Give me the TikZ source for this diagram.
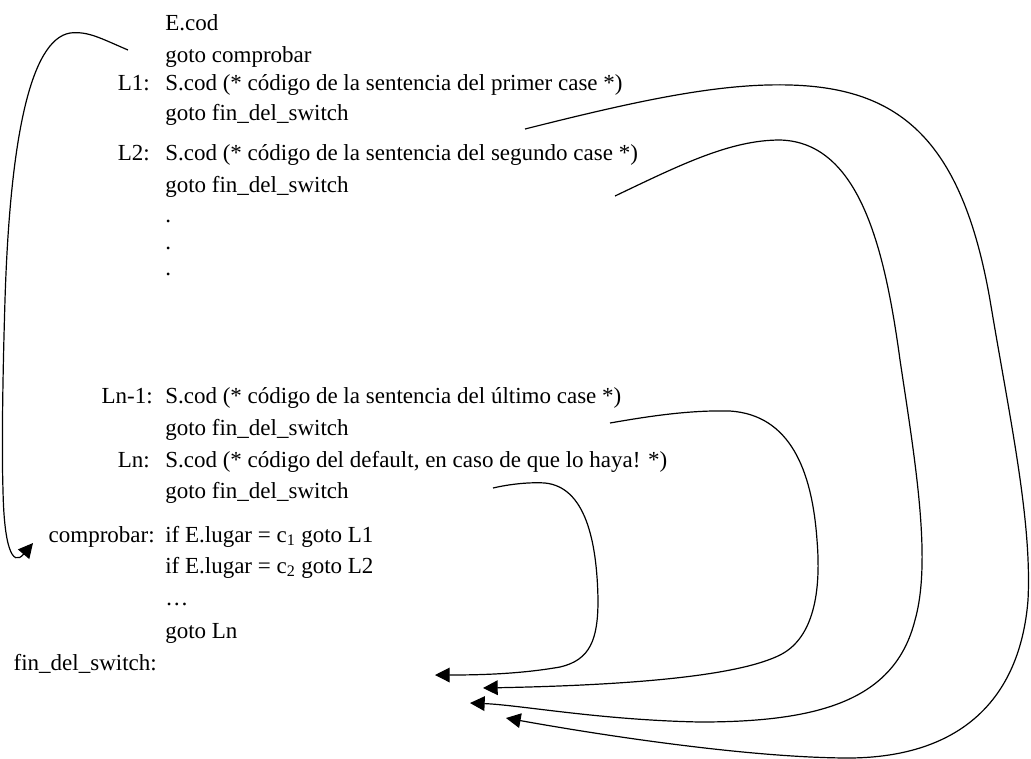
\documentclass[tikz,border=0pt]{standalone}
\usepackage{fontspec}
\setmainfont{Liberation Serif}
\usetikzlibrary{arrows.meta}
\tikzset{
  codeline/.style={anchor=base west,inner sep=0pt,font=\fontsize{17.25pt}{20pt}\selectfont},
  labeltext/.style={anchor=base east,inner sep=0pt,font=\fontsize{17.25pt}{20pt}\selectfont},
  jump/.style={-{Triangle[length=11pt,width=11pt]},line width=0.9pt}
}
\begin{document}
\begin{tikzpicture}[x=0.75pt,y=-0.75pt]
  \useasboundingbox (0,0) rectangle (1031,758);
  % code lines
  \node[codeline] (ecod) at (165,30) {E.cod};
  \node[codeline] (gocomp) at (165,62) {goto comprobar};
  \node[labeltext] (lone) at (150,90) {L1:};
  \node[codeline] (sone) at (165,90) {S.cod (* código de la sentencia del primer case *)};
  \node[codeline] (gone) at (165,120) {goto fin\_del\_switch};
  \node[labeltext] (ltwo) at (150,160) {L2:};
  \node[codeline] (stwo) at (165,160) {S.cod (* código de la sentencia del segundo case *)};
  \node[codeline] (gtwo) at (165,192) {goto fin\_del\_switch};
  \node[codeline] (dota) at (165,222) {.};
  \node[codeline] (dotb) at (165,249) {.};
  \node[codeline] (dotc) at (165,275) {.};
  \node[labeltext] (llast) at (153,403) {Ln-1:};
  \node[codeline] (slast) at (165,403) {S.cod (* código de la sentencia del último case *)};
  \node[codeline] (glast) at (165,435) {goto fin\_del\_switch};
  \node[labeltext] (ldef) at (150,467) {Ln:};
  \node[codeline] (sdef) at (165,467) {S.cod (* código del default, en caso de que lo haya! *)};
  \node[codeline] (gdef) at (165,498) {goto fin\_del\_switch};
  \node[labeltext] (lcomp) at (155,542) {comprobar:};
  \node[codeline] (ifone) at (165,542) {if E.lugar = c\textsubscript{1} goto L1};
  \node[codeline] (iftwo) at (165,573) {if E.lugar = c\textsubscript{2} goto L2};
  \node[codeline] (ifdots) at (165,605) {\dots};
  \node[codeline] (godef) at (165,638) {goto Ln};
  \node[labeltext] (lfin) at (157,670) {fin\_del\_switch:};
  % ends of the jumps
  \coordinate (fromcomp) at (128,50);
  \coordinate (tocomp) at (33,543);
  \coordinate (fromone) at (525,129);
  \coordinate (toone) at (506,718);
  \coordinate (fromtwo) at (615,196);
  \coordinate (totwo) at (470,703);
  \coordinate (fromlast) at (610,423);
  \coordinate (tolast) at (483,688);
  \coordinate (fromdef) at (493,488);
  \coordinate (todef) at (435,675);
  % jumps
  \draw[jump] (fromcomp) .. controls (100,38) and (88,31) .. (70,33)
    .. controls (30,40) and (10,140) .. (5,300)
    .. controls (2,400) and (2,460) .. (3,490)
    .. controls (4,545) and (12,568) .. (tocomp);
  \draw[jump] (fromone) .. controls (640,100) and (720,83) .. (790,85)
    .. controls (900,88) and (962,140) .. (990,300)
    .. controls (1010,420) and (1032,520) .. (1028,600)
    .. controls (1020,700) and (960,757) .. (850,758)
    .. controls (750,758) and (600,735) .. (toone);
  \draw[jump] (fromtwo) .. controls (680,165) and (730,140) .. (780,140)
    .. controls (860,142) and (885,250) .. (900,360)
    .. controls (915,460) and (932,560) .. (915,620)
    .. controls (895,700) and (820,722) .. (700,722)
    .. controls (600,720) and (520,705) .. (totwo);
  \draw[jump] (fromlast) .. controls (650,416) and (690,410) .. (730,411)
    .. controls (790,415) and (812,470) .. (817,540)
    .. controls (822,600) and (810,640) .. (780,655)
    .. controls (740,675) and (640,685) .. (tolast);
  \draw[jump] (fromdef) .. controls (510,484) and (530,482) .. (545,483)
    .. controls (585,487) and (597,540) .. (598,600)
    .. controls (598,640) and (590,660) .. (560,667)
    .. controls (520,674) and (480,675) .. (todef);
\end{tikzpicture}
\end{document}
